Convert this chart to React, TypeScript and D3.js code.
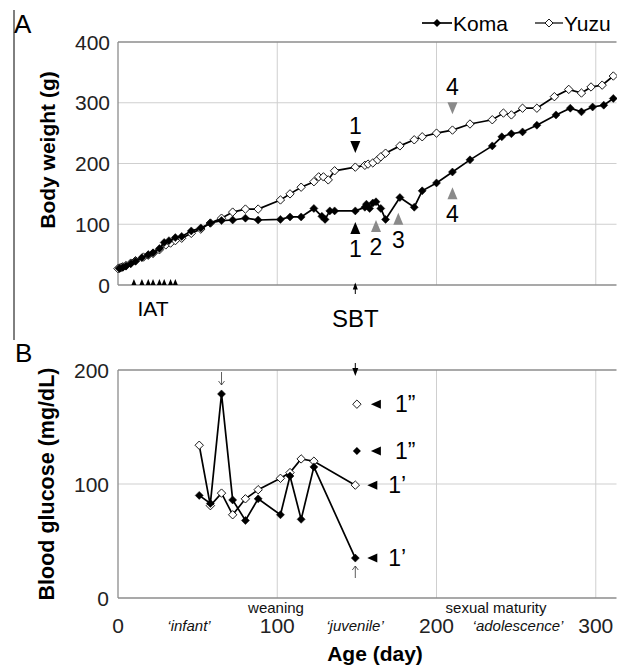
import * as d3 from 'd3'

const FONT = '"Liberation Sans", Arial, sans-serif'

// body weight (g) by age (day)
const komaDays = [1, 3, 5, 8, 11, 15, 19, 22, 26, 29, 32, 36, 40, 46, 52, 58, 65, 72, 80, 88, 102, 108, 115, 123, 128, 130, 133, 136, 149, 155, 156, 158, 160, 162, 165, 168, 177, 186, 191, 200, 210, 221, 235, 241, 247, 254, 263, 275, 284, 291, 298, 305, 311]
const komaWeight = [27, 29, 31, 35, 39, 45, 50, 53, 60, 70, 73, 78, 80, 89, 94, 102, 106, 107, 110, 107, 108, 112, 112, 126, 113, 108, 122, 122, 122, 128, 133, 126, 135, 137, 126, 108, 144, 128, 155, 168, 186, 206, 229, 244, 249, 252, 263, 280, 291, 285, 293, 296, 307]
const yuzuDays = [0, 1, 2, 3, 5, 8, 11, 16, 19, 22, 26, 30, 33, 36, 40, 46, 52, 58, 65, 72, 80, 88, 102, 108, 115, 123, 126, 129, 132, 136, 149, 155, 157, 160, 163, 165, 168, 177, 186, 191, 200, 210, 221, 235, 242, 247, 254, 263, 274, 283, 291, 297, 304, 311]
const yuzuWeight = [27, 28, 29, 30, 32, 36, 40, 46, 49, 52, 58, 66, 69, 73, 77, 85, 92, 102, 110, 120, 125, 125, 140, 150, 161, 170, 178, 178, 173, 188, 194, 197, 199, 201, 206, 211, 217, 229, 239, 244, 250, 255, 265, 272, 283, 280, 291, 291, 310, 322, 316, 326, 329, 344]

const iatDays = [10, 15, 19, 22, 26, 29, 33, 36]
const sbtDay = 149

// arrows on the weight panel: day, weight at the arrow, direction, label
const weightArrowDays = [149, 149, 162, 176, 210, 210]
const weightArrowAt = [227, 94, 97, 109, 291, 151]
const weightArrowDir = ['down', 'up', 'up', 'up', 'down', 'up']
const weightArrowLabels = ['1', '1', '2', '3', '4', '4']
const weightArrowGray = [false, false, true, true, true, true]

// blood glucose (mg/dL)
const glucoseDays = [51, 58, 65, 72, 80, 88, 102, 108, 115, 123, 149]
const komaGlucose = [90, 83, 179, 86, 68, 87, 73, 107, 69, 115, 35]
const yuzuGlucose = [134, 81, 92, 73, 87, 95, 105, 110, 122, 120, 99]
const lateDay = 150
const komaLate = 129
const yuzuLate = 170

const xTicks = [0, 100, 200, 300]
const weightTicks = [0, 100, 200, 300, 400]
const glucoseTicks = [0, 100, 200]

const diamond = (r: number) => `M0,${-r}L${r},0L0,${r}L${-r},0Z`

const Series = ({ xs, ys, x, y, filled }: any) => {
  const pts: [number, number][] = xs.map((d: number, i: number) => [x(d), y(ys[i])])
  const line = d3.line()
  return (
    <g>
      <path d={line(pts) || ''} fill="none" stroke="#000" strokeWidth={1.7} />
      {pts.map((p, i) => (
        <path key={i} d={diamond(filled ? 4 : 4.2)} transform={`translate(${p[0]},${p[1]})`}
          fill={filled ? '#000' : '#fff'} stroke="#000" strokeWidth={filled ? 0.5 : 0.9} />
      ))}
    </g>
  )
}

const tri = (dir: string, w: number, h: number) => {
  if (dir === 'down') return `M${-w / 2},${-h / 2}L${w / 2},${-h / 2}L0,${h / 2}Z`
  if (dir === 'up') return `M${-w / 2},${h / 2}L${w / 2},${h / 2}L0,${-h / 2}Z`
  return `M${w / 2},${-h / 2}L${w / 2},${h / 2}L${-w / 2},0Z`
}

export default function App() {
  const W = 617
  const H = 666
  const x = d3.scaleLinear().domain([0, 313]).range([118, 616.5])
  const yW = d3.scaleLinear().domain([0, 400]).range([285, 42])
  const yG = d3.scaleLinear().domain([0, 200]).range([598, 370])
  const gridC = '#cfcfcf'
  const frameC = '#8c8c8c'
  const gray = '#8a8a8a'

  return (
    <svg width={W} height={H} style={{ position: 'absolute', left: 0, top: 0, background: '#fff' }} fontFamily={FONT}>
      <rect width={W} height={H} fill="#fff" />
      <line x1={14} x2={14} y1={10} y2={340} stroke="#000" strokeWidth={1} />
      <text x={14} y={33} fontSize={26}>A</text>
      <text x={15} y={362} fontSize={26}>B</text>

      {/* legend */}
      <g fontSize={21}>
        <line x1={422} x2={452} y1={23} y2={23} stroke="#000" strokeWidth={1.7} />
        <path d={diamond(4)} transform="translate(437,23)" fill="#000" />
        <text x={453} y={23} dominantBaseline="central">Koma</text>
        <line x1={535} x2={563} y1={23} y2={23} stroke="#000" strokeWidth={1.2} />
        <path d={diamond(4)} transform="translate(549,23)" fill="#fff" stroke="#000" strokeWidth={0.9} />
        <text x={564} y={23} dominantBaseline="central">Yuzu</text>
      </g>

      {/* panel A */}
      <g>
        {weightTicks.slice(1, -1).map(t => (
          <line key={t} x1={x(0)} x2={x(313)} y1={yW(t)} y2={yW(t)} stroke={gridC} />
        ))}
        {xTicks.slice(1).map(t => (
          <line key={t} x1={x(t)} x2={x(t)} y1={yW(0)} y2={yW(400)} stroke={gridC} />
        ))}
        <line x1={x(0)} x2={x(313)} y1={yW(400)} y2={yW(400)} stroke={frameC} strokeWidth={1.3} />
        <line x1={x(0)} x2={x(313)} y1={yW(0)} y2={yW(0)} stroke={frameC} strokeWidth={1.3} />
        <line x1={x(0)} x2={x(0)} y1={yW(0)} y2={yW(400)} stroke={frameC} strokeWidth={1.3} />
        {weightTicks.map(t => (
          <text key={t} x={110} y={yW(t)} fontSize={21} textAnchor="end" dominantBaseline="central" fill="#222">{t}</text>
        ))}
        <text transform="translate(47,150) rotate(-90)" fontSize={21} fontWeight="bold" textAnchor="middle" dominantBaseline="central">Body weight (g)</text>

        <Series xs={yuzuDays} ys={yuzuWeight} x={x} y={yW} filled={false} />
        <Series xs={komaDays} ys={komaWeight} x={x} y={yW} filled={true} />

        {iatDays.map(d => (
          <path key={d} d={tri('up', 5, 6)} transform={`translate(${x(d)},${yW(0) - 3})`} fill="#000" />
        ))}
        <text x={153} y={308} fontSize={21} textAnchor="middle" dominantBaseline="central">IAT</text>

        <line x1={x(sbtDay)} x2={x(sbtDay)} y1={294} y2={284} stroke="#000" strokeWidth={1} />
        <path d={tri('up', 5, 7)} transform={`translate(${x(sbtDay)},${286})`} fill="#000" />
        <text x={x(sbtDay)} y={318} fontSize={24} textAnchor="middle" dominantBaseline="central">SBT</text>

        {weightArrowDays.map((d, i) => {
          const cy = yW(weightArrowAt[i])
          const ty = weightArrowDir[i] === 'down' ? cy - 21 : cy + 21
          return (
            <g key={i}>
              <path d={tri(weightArrowDir[i], 10, 12)} transform={`translate(${x(d)},${cy})`} fill={weightArrowGray[i] ? gray : '#000'} />
              <text x={x(d)} y={ty} fontSize={23} textAnchor="middle" dominantBaseline="central">{weightArrowLabels[i]}</text>
            </g>
          )
        })}
      </g>

      {/* panel B */}
      <g>
        <line x1={x(0)} x2={x(313)} y1={yG(100)} y2={yG(100)} stroke={gridC} />
        {xTicks.slice(1).map(t => (
          <line key={t} x1={x(t)} x2={x(t)} y1={yG(0)} y2={yG(200)} stroke={gridC} />
        ))}
        <line x1={x(0)} x2={x(313)} y1={yG(200)} y2={yG(200)} stroke={frameC} strokeWidth={1.3} />
        <line x1={x(0)} x2={x(313)} y1={yG(0)} y2={yG(0)} stroke={frameC} strokeWidth={1.3} />
        <line x1={x(0)} x2={x(0)} y1={yG(0)} y2={yG(200)} stroke={frameC} strokeWidth={1.3} />
        {glucoseTicks.map(t => (
          <text key={t} x={109} y={yG(t)} fontSize={21} textAnchor="end" dominantBaseline="central" fill="#222">{t}</text>
        ))}
        {xTicks.map(t => (
          <text key={t} x={x(t)} y={625} fontSize={21} textAnchor="middle" dominantBaseline="central" fill="#222">{t}</text>
        ))}
        <text transform={`translate(47,${yG(100)}) rotate(-90)`} fontSize={21.5} fontWeight="bold" textAnchor="middle" dominantBaseline="central">Blood glucose (mg/dL)</text>
        <text x={375} y={653} fontSize={21} fontWeight="bold" textAnchor="middle" dominantBaseline="central">Age (day)</text>

        <g fontSize={15} textAnchor="middle" dominantBaseline="central" fill="#111">
          <text x={276} y={607}>weaning</text>
          <text x={496} y={607}>sexual maturity</text>
          <text x={189} y={625} fontStyle="italic">‘infant’</text>
          <text x={355} y={625} fontStyle="italic">‘juvenile’</text>
          <text x={518} y={625} fontStyle="italic">‘adolescence’</text>
        </g>

        <Series xs={glucoseDays} ys={yuzuGlucose} x={x} y={yG} filled={false} />
        <Series xs={glucoseDays} ys={komaGlucose} x={x} y={yG} filled={true} />
        <path d={diamond(4.2)} transform={`translate(${x(lateDay)},${yG(yuzuLate)})`} fill="#fff" stroke="#000" strokeWidth={0.9} />
        <path d={diamond(4)} transform={`translate(${x(lateDay)},${yG(komaLate)})`} fill="#000" />

        {/* notes next to the late points */}
        {[yuzuLate, komaLate].map((v, i) => (
          <g key={'a' + i}>
            <path d={tri('left', 10, 9)} transform={`translate(${x(lateDay) + 19},${yG(v)})`} fill="#000" />
            <text x={x(lateDay) + 38} y={yG(v)} fontSize={23} dominantBaseline="central">1”</text>
          </g>
        ))}
        {[yuzuGlucose[yuzuGlucose.length - 1], komaGlucose[komaGlucose.length - 1]].map((v, i) => (
          <g key={'b' + i}>
            <path d={tri('left', 10, 9)} transform={`translate(${x(sbtDay) + 17},${yG(v)})`} fill="#000" />
            <text x={x(sbtDay) + 33} y={yG(v)} fontSize={23} dominantBaseline="central">1’</text>
          </g>
        ))}

        {/* thin arrows */}
        <g stroke="#333" strokeWidth={0.8} fill="none">
          <line x1={x(65)} x2={x(65)} y1={372} y2={385} />
          <path d={`M${x(65) - 3},${381}L${x(65)},${385}L${x(65) + 3},${381}`} />
          <line x1={x(sbtDay)} x2={x(sbtDay)} y1={578} y2={566} />
          <path d={`M${x(sbtDay) - 3},${570}L${x(sbtDay)},${566}L${x(sbtDay) + 3},${570}`} />
        </g>
        <line x1={x(sbtDay)} x2={x(sbtDay)} y1={363} y2={372} stroke="#000" strokeWidth={1} />
        <path d={tri('down', 6, 8)} transform={`translate(${x(sbtDay)},${372})`} fill="#000" />
      </g>
    </svg>
  )
}
